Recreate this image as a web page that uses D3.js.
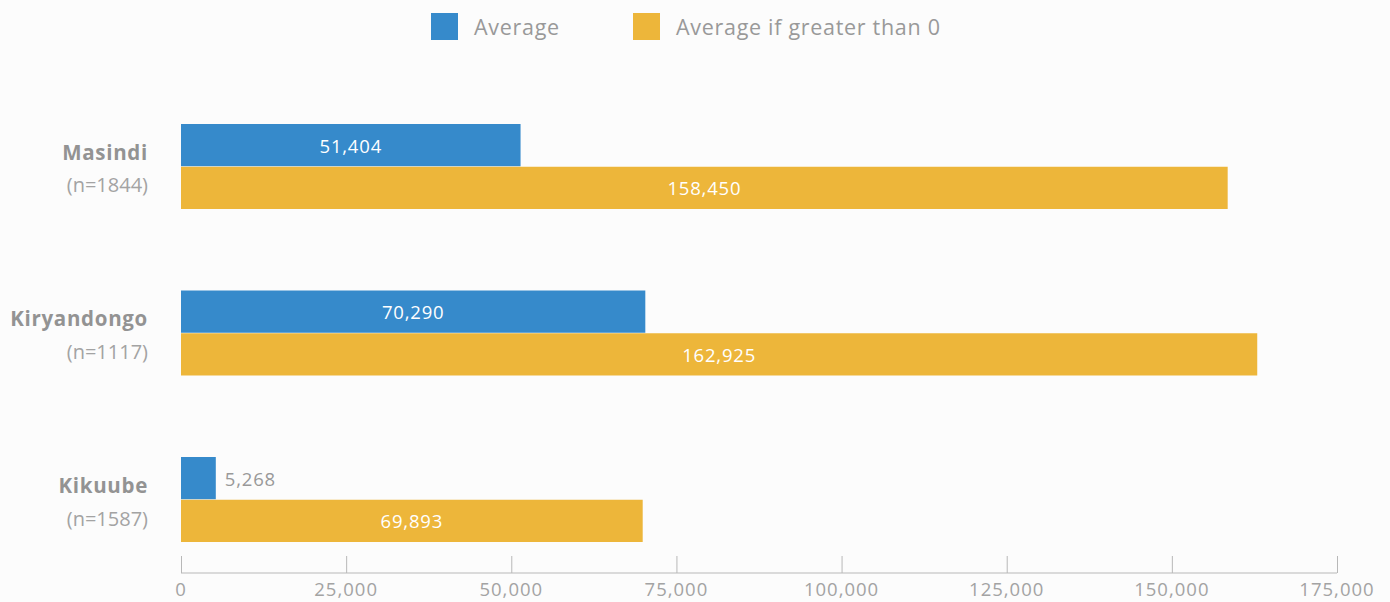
<!DOCTYPE html>
<html>
<head>
<meta charset="utf-8">
<script src="https://cdn.jsdelivr.net/npm/d3@7"></script>
<style>
  html, body { margin: 0; padding: 0; background: #fcfcfc; }
  svg { display: block; font-family: "Open Sans", Lato, sans-serif; }
</style>
</head>
<body>
<svg id="chart" width="1390" height="602"></svg>
<script>
// Districts and sample sizes
const districts = ["Masindi", "Kiryandongo", "Kikuube"];
const sampleSizes = ["(n=1844)", "(n=1117)", "(n=1587)"];

// Series
const seriesNames = ["Average", "Average if greater than 0"];
const averageValues = [51404, 70290, 5268];
const averagePositiveValues = [158450, 162925, 69893];

// Axis ticks
const xTicks = [0, 25000, 50000, 75000, 100000, 125000, 150000, 175000];

const colors = ["#368acb", "#edb63a"];
const textGray = "#999999";

const svg = d3.select("#chart");

const x = d3.scaleLinear().domain([0, 175000]).range([181, 1337]);

const y = d3.scaleBand()
  .domain(districts)
  .range([124, 542])
  .paddingInner(0.4895)
  .paddingOuter(0);

const ySub = d3.scaleBand()
  .domain(seriesNames)
  .range([0, y.bandwidth()])
  .paddingInner(1 / 85);

const rows = districts.map((d, i) => ({
  district: d,
  n: sampleSizes[i],
  values: [averageValues[i], averagePositiveValues[i]]
}));

const fmt = d3.format(",");

// Bars
const group = svg.append("g")
  .selectAll("g")
  .data(rows)
  .join("g")
  .attr("transform", d => `translate(0,${y(d.district)})`);

group.selectAll("rect")
  .data(d => d.values.map((v, k) => ({ v, k })))
  .join("rect")
  .attr("x", x(0))
  .attr("y", d => ySub(seriesNames[d.k]))
  .attr("width", d => x(d.v) - x(0))
  .attr("height", ySub.bandwidth())
  .attr("fill", d => colors[d.k]);

// Value labels: centred inside the bar, or just outside when the bar is narrow
group.selectAll("text.val")
  .data(d => d.values.map((v, k) => ({ v, k })))
  .join("text")
  .attr("class", "val")
  .each(function(d) {
    const w = x(d.v) - x(0);
    const inside = w > 90;
    d3.select(this)
      .attr("x", inside ? x(0) + w / 2 : x(d.v) + 9)
      .attr("text-anchor", inside ? "middle" : "start")
      .attr("fill", inside ? "#ffffff" : textGray);
  })
  .attr("y", d => ySub(seriesNames[d.k]) + ySub.bandwidth() / 2 + 1)
  .attr("dy", "0.35em")
  .attr("font-size", 18.5)
  .attr("letter-spacing", 0.8)
  .text(d => fmt(d.v));

// Category labels
const labels = svg.append("g")
  .selectAll("g")
  .data(rows)
  .join("g")
  .attr("transform", d => `translate(148,${y(d.district) + y.bandwidth() / 2})`);

labels.append("text")
  .attr("text-anchor", "end")
  .attr("y", -14)
  .attr("dy", "0.35em")
  .attr("font-size", 20.5)
  .attr("font-weight", "bold")
  .attr("letter-spacing", 0.7)
  .attr("fill", "#939393")
  .text(d => d.district);

labels.append("text")
  .attr("text-anchor", "end")
  .attr("y", 19)
  .attr("dy", "0.35em")
  .attr("font-size", 20)
  .attr("fill", "#a3a3a3")
  .text(d => d.n);

// X axis
const axis = svg.append("g")
  .attr("transform", "translate(0,573)")
  .call(d3.axisTop(x).tickValues(xTicks).tickSize(17).tickFormat(() => ""));
axis.select(".domain").attr("stroke", "#b8b8b8").attr("d", `M${x(0)},0H${x(175000)}`);
axis.selectAll(".tick line").attr("stroke", "#b8b8b8");

svg.append("g")
  .selectAll("text")
  .data(xTicks)
  .join("text")
  .attr("x", d => x(d))
  .attr("y", 596)
  .attr("text-anchor", "middle")
  .attr("font-size", 18.5)
  .attr("letter-spacing", 1)
  .attr("fill", "#a3a3a3")
  .text(d => fmt(d));

// Legend
const legendX = [431, 633];
const legend = svg.append("g")
  .selectAll("g")
  .data(seriesNames)
  .join("g")
  .attr("transform", (d, i) => `translate(${legendX[i]},13)`);

legend.append("rect")
  .attr("width", 27)
  .attr("height", 27)
  .attr("fill", (d, i) => colors[i]);

legend.append("text")
  .attr("x", 43)
  .attr("y", 14)
  .attr("dy", "0.35em")
  .attr("font-size", 21.5)
  .attr("letter-spacing", 0.7)
  .attr("fill", "#999999")
  .text(d => d);
</script>
</body>
</html>
